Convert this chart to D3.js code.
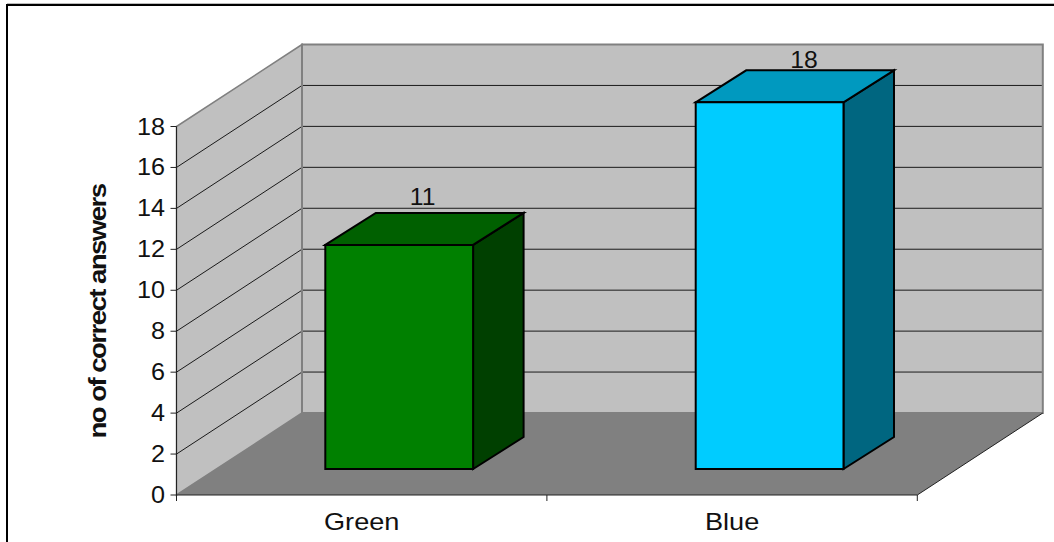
<!DOCTYPE html>
<html>
<head>
<meta charset="utf-8">
<script src="https://cdn.jsdelivr.net/npm/d3@7"></script>
<style>
  html, body { margin: 0; padding: 0; background: #fff; }
  svg { display: block; }
  text { font-family: "Liberation Sans", Arial, sans-serif; fill: #111; }
</style>
</head>
<body>
<svg id="chart" width="1054" height="542"></svg>
<script>
// Correct answers per colour group
const categories = ["Green", "Blue"];
const values = [11, 18];
const yTicks = [0, 2, 4, 6, 8, 10, 12, 14, 16, 18];
const yTitle = "no of correct answers";
const frontColors = ["#008000", "#00ccff"];
const topColors = ["#006000", "#0099bf"];
const sideColors = ["#004000", "#006680"];
const labelShift = [23.5, 34.5];
const labelLift = [8, 2];

const svg = d3.select("#chart");

// Front plane of the 3D box; the back wall sits one depth offset up and right
const x = d3.scaleBand().domain(categories).range([176.5, 917.3]).paddingInner(0.601).paddingOuter(0.3005);
const y = d3.scaleLinear().domain([0, 18]).range([495, 126.5]);
// Bars stand partway into the floor, so they use a plane of their own
const yBar = d3.scaleLinear().domain([0, 18]).range([469, 102.3]);
const wallDepth = { dx: 125.5, dy: -82 };
const barDepth = { dx: 50.5, dy: -32 };
const barInsetX = 37.5;

const [x0, x1] = x.range();
const poly = pts => pts.map(p => p.join(",")).join(" ");

// Outer frame, open at the right and bottom
svg.append("path").attr("d", "M7,542V5H1054").attr("fill", "none").attr("stroke", "#000").attr("stroke-width", 2);
svg.append("path").attr("d", "M7,3.5H1054").attr("fill", "none").attr("stroke", "#bbb").attr("stroke-width", 1);

// Side wall, back wall and floor
const backX0 = x0 + wallDepth.dx, backX1 = x1 + wallDepth.dx;
svg.append("polygon").attr("fill", "#c0c0c0").attr("stroke", "#808080").attr("stroke-width", 1.5)
  .attr("points", poly([[x0, y(0)], [x0, y(18)], [backX0, y(18) + wallDepth.dy], [backX0, y(0) + wallDepth.dy]]));
svg.append("polygon").attr("fill", "#c0c0c0").attr("stroke", "#808080").attr("stroke-width", 2)
  .attr("points", poly([[backX0, y(0) + wallDepth.dy], [backX0, y(18) + wallDepth.dy], [backX1, y(18) + wallDepth.dy], [backX1, y(0) + wallDepth.dy]]));
svg.append("polygon").attr("fill", "#808080")
  .attr("points", poly([[x0, y(0)], [backX0, y(0) + wallDepth.dy], [backX1, y(0) + wallDepth.dy], [x1, y(0)]]));

// Gridlines run along the side wall and across the back wall
const grid = svg.append("g").attr("fill", "none").attr("stroke", "#1a1a1a").attr("stroke-width", 1);
yTicks.filter(t => t > 0 && t < 18).forEach(t => {
  grid.append("path").attr("d", d3.line()([
    [x0, y(t)], [backX0, y(t) + wallDepth.dy], [backX1 - 1, y(t) + wallDepth.dy]
  ]));
});
svg.append("line").attr("x1", backX0).attr("x2", backX0)
  .attr("y1", y(18) + wallDepth.dy).attr("y2", y(0) + wallDepth.dy)
  .attr("stroke", "#808080").attr("stroke-width", 2);

// Floor edges and axes
const axes = svg.append("g").attr("fill", "none").attr("stroke", "#222").attr("stroke-width", 1);
axes.append("path").attr("d", d3.line()([[x0, y(18)], [x0, y(0)], [x1, y(0)], [x1 + wallDepth.dx, y(0) + wallDepth.dy]]));
yTicks.forEach(t => {
  axes.append("line").attr("x1", x0 - 6).attr("x2", x0).attr("y1", y(t)).attr("y2", y(t));
});
const step = x.step();
d3.range(categories.length + 1).forEach(i => {
  const tx = x0 + i * step;
  axes.append("line").attr("x1", tx).attr("x2", tx).attr("y1", y(0)).attr("y2", y(0) + 6);
});

// Bars as three-faced boxes standing on the floor
const bars = svg.append("g").attr("stroke", "#000").attr("stroke-width", 2).attr("stroke-linejoin", "miter");
categories.forEach((c, i) => {
  const l = x(c) + barInsetX, r = l + x.bandwidth();
  const b = yBar(0), t = yBar(values[i]);
  const d = barDepth;
  bars.append("polygon").attr("fill", sideColors[i])
    .attr("points", poly([[r, b], [r, t], [r + d.dx, t + d.dy], [r + d.dx, b + d.dy]]));
  bars.append("polygon").attr("fill", topColors[i])
    .attr("points", poly([[l, t], [l + d.dx, t + d.dy], [r + d.dx, t + d.dy], [r, t]]));
  bars.append("polygon").attr("fill", frontColors[i])
    .attr("points", poly([[l, b], [l, t], [r, t], [r, b]]));

  const cx = (l + r) / 2 + labelShift[i];
  svg.append("text").attr("transform", `translate(${cx},${t + d.dy - labelLift[i]}) scale(1.03,1)`)
    .attr("text-anchor", "middle").attr("font-size", 24).text(values[i]);
});

// Tick labels, slightly widened
yTicks.forEach(t => {
  svg.append("text").attr("transform", `translate(165,${y(t) + 8}) scale(1.05,1)`)
    .attr("text-anchor", "end").attr("font-size", 24).text(t);
});
categories.forEach(c => {
  svg.append("text").attr("transform", `translate(${x(c) + x.bandwidth() / 2},530) scale(1.18,1)`)
    .attr("text-anchor", "middle").attr("font-size", 23).text(c);
});

// Axis title: wide bold glyphs set close together
svg.append("text").attr("transform", "translate(106,311.5) rotate(-90) scale(1.2,1)")
  .attr("text-anchor", "middle").attr("font-size", 23).attr("font-weight", "bold")
  .attr("letter-spacing", "-1.3px").text(yTitle);
</script>
</body>
</html>
